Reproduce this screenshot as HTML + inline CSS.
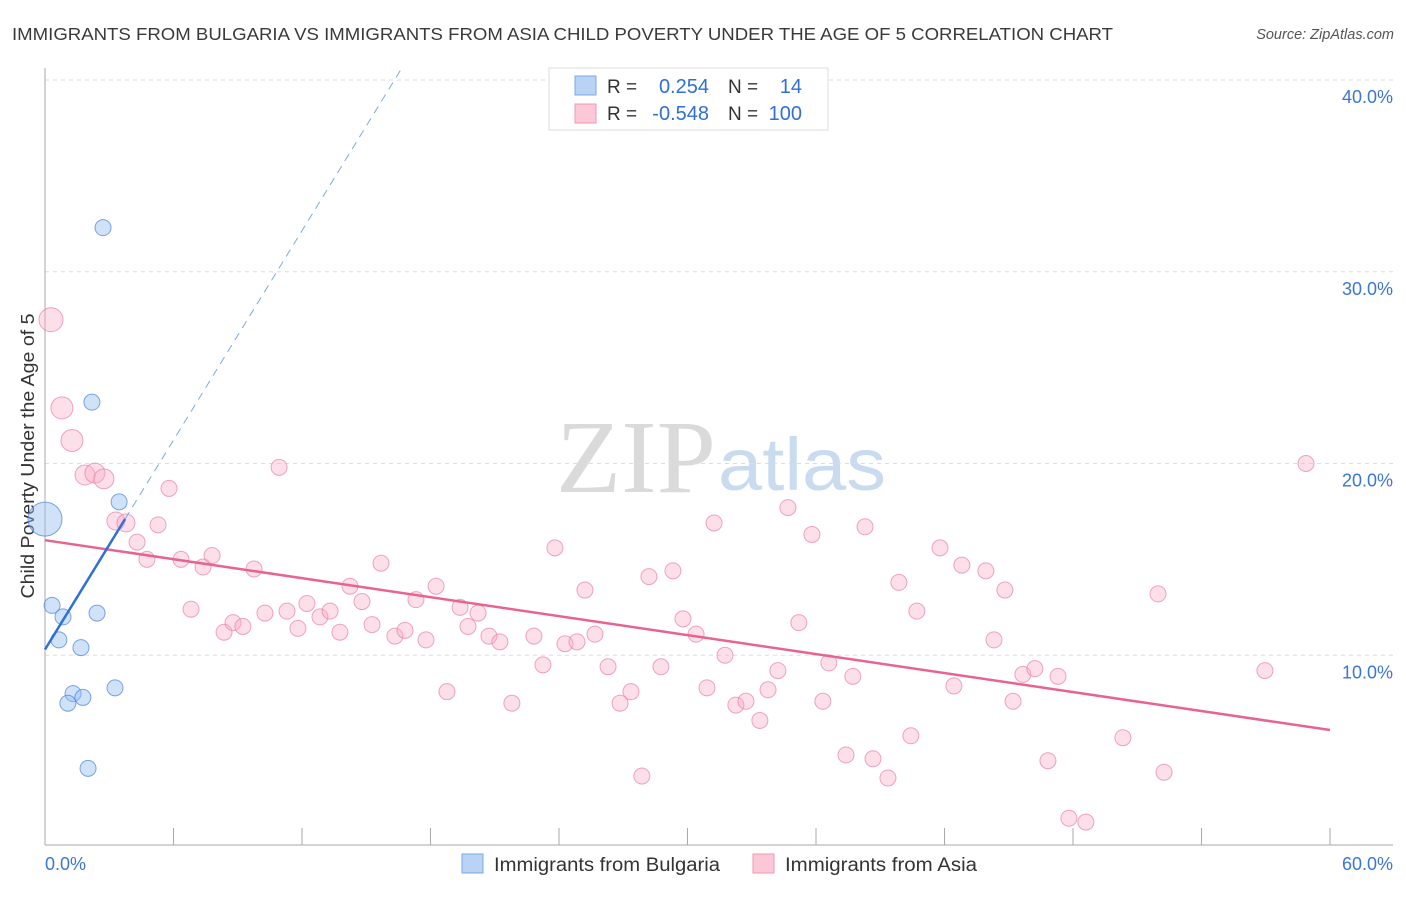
<!DOCTYPE html>
<html><head><meta charset="utf-8"><style>
body{margin:0;background:#fff;font-family:"Liberation Sans",sans-serif;}
svg text{font-family:"Liberation Sans",sans-serif;}
</style></head><body>
<svg id="c" width="1406" height="892" xmlns="http://www.w3.org/2000/svg">
<text x="12" y="40" font-size="17.5" fill="#3a3a3a" textLength="1101" lengthAdjust="spacingAndGlyphs">IMMIGRANTS FROM BULGARIA VS IMMIGRANTS FROM ASIA CHILD POVERTY UNDER THE AGE OF 5 CORRELATION CHART</text>
<text x="1394" y="39" font-size="14.5" fill="#555" font-style="italic" text-anchor="end">Source: ZipAtlas.com</text>
<text x="716" y="492" font-size="104" fill="#dadada" text-anchor="end" textLength="160" lengthAdjust="spacingAndGlyphs" style="font-family:'Liberation Serif',serif">ZIP</text>
<text x="718" y="490" font-size="74" fill="#c9dbef" textLength="168" lengthAdjust="spacingAndGlyphs">atlas</text>
<text transform="translate(34,456) rotate(-90)" font-size="18.5" fill="#333" text-anchor="middle" textLength="285" lengthAdjust="spacingAndGlyphs">Child Poverty Under the Age of 5</text>
<g id="grid"></g><g id="axes"></g><g id="pts"></g><g id="lines"></g>
<g>
<rect x="549" y="68" width="279" height="62" fill="#fff" stroke="#ddd"/>
<rect x="575" y="76" width="21" height="19" fill="#b8d3f4" stroke="#7aaae6"/>
<rect x="575" y="104" width="21" height="19" fill="#fcc8d8" stroke="#f097b3"/>
<text x="607" y="93" font-size="19" fill="#333">R =</text>
<text x="709" y="93" font-size="20" fill="#2f6fd6" text-anchor="end">0.254</text>
<text x="728" y="93" font-size="19" fill="#333">N =</text>
<text x="802" y="93" font-size="20" fill="#2f6fd6" text-anchor="end">14</text>
<text x="607" y="120" font-size="19" fill="#333">R =</text>
<text x="709" y="120" font-size="20" fill="#2f6fd6" text-anchor="end">-0.548</text>
<text x="728" y="120" font-size="19" fill="#333">N =</text>
<text x="802" y="120" font-size="20" fill="#2f6fd6" text-anchor="end">100</text>
</g>
<g>
<rect x="462" y="854" width="21" height="19" fill="#b8d3f4" stroke="#7aaae6"/>
<text x="494" y="871" font-size="19" fill="#333" textLength="226" lengthAdjust="spacingAndGlyphs">Immigrants from Bulgaria</text>
<rect x="753" y="854" width="21" height="19" fill="#fcc8d8" stroke="#f097b3"/>
<text x="785" y="871" font-size="19" fill="#333" textLength="192" lengthAdjust="spacingAndGlyphs">Immigrants from Asia</text>
</g>
</svg>
<script>
const yTicks=[10,20,30,40];
const yTickLabels=["10.0%","20.0%","30.0%","40.0%"];
const xTickLabels=["0.0%","60.0%"];
const blueX=[2.71,2.19,3.46,0,0.33,0.84,2.43,0.65,1.68,1.31,1.07,1.77,3.27,2.01];
const blueY=[32.3,23.2,18.0,17.1,12.6,12.0,12.2,10.8,10.4,8.0,7.5,7.8,8.3,4.1];
const blueR=[8,8,8,17,8,8,8,8,8,8,8,8,8,8];
const pinkX=[0.28,0.79,1.26,1.87,2.33,2.75,3.31,3.78,4.30,5.28,5.79,4.76,6.35,6.82,7.38,7.80,8.36,8.78,9.24,9.76,10.27,10.93,11.30,11.81,12.23,12.84,13.31,13.77,14.24,14.80,15.27,15.69,16.34,16.81,17.32,17.79,18.26,18.77,19.38,19.75,20.22,20.73,21.24,21.80,22.83,23.25,23.81,24.28,24.84,25.21,25.68,26.29,26.85,27.36,27.87,28.20,28.76,29.32,29.79,30.40,30.91,31.24,31.75,32.26,32.73,33.38,33.76,34.22,34.69,35.20,35.81,36.32,36.60,37.40,37.72,38.29,38.66,39.36,39.87,40.43,40.71,41.79,42.44,42.81,43.93,44.31,44.82,45.20,45.66,46.22,46.83,47.30,47.81,48.60,50.33,51.97,52.25,56.96,58.88];
const pinkY=[27.5,22.9,21.2,19.4,19.5,19.2,17.0,16.9,15.9,16.8,18.7,15.0,15.0,12.4,14.6,15.2,11.2,11.7,11.5,14.5,12.2,19.8,12.3,11.4,12.7,12.0,12.3,11.2,13.6,12.8,11.6,14.8,11.0,11.3,12.9,10.8,13.6,8.1,12.5,11.5,12.2,11.0,10.7,7.5,11.0,9.5,15.6,10.6,10.7,13.4,11.1,9.4,7.5,8.1,3.7,14.1,9.4,14.4,11.9,11.1,8.3,16.9,10.0,7.4,7.6,6.6,8.2,9.2,17.7,11.7,16.3,7.6,9.6,4.8,8.9,16.7,4.6,3.6,13.8,5.8,12.3,15.6,8.4,14.7,14.4,10.8,13.4,7.6,9.0,9.3,4.5,8.9,1.5,1.3,5.7,13.2,3.9,9.2,20.0];
const pinkR=[12,11,11,10,10,10,9,9];
const blueFit=[10.3,1.82];
const pinkFit=[16.0,-0.165];
const NS='http://www.w3.org/2000/svg';
const X=v=>45+v/60*1285, Y=v=>847-v/10*191.75;
function mk(t,a,p){const e=document.createElementNS(NS,t);for(const k in a)e.setAttribute(k,a[k]);document.getElementById(p).appendChild(e);return e;}
yTicks.forEach((t,i)=>{
 const g=mk('line',{x1:45,x2:1393,y1:Y(t),y2:Y(t),stroke:'#ddd','stroke-dasharray':'4,4'},'grid');
 
 
 const l=mk('text',{x:1393,y:Y(t)+23,'font-size':18,fill:'#3b76d6','text-anchor':'end'},'grid');l.textContent=yTickLabels[i];
 
 
});
const ax=mk('line',{x1:45,x2:1393,y1:845,y2:845,stroke:'#aaa'},'axes');


const ay=mk('line',{x1:45,x2:45,y1:68,y2:845,stroke:'#aaa'},'axes');


for(let i=1;i<=10;i++){const t=mk('line',{x1:X(i*6),x2:X(i*6),y1:828,y2:845,stroke:'#aaa'},'axes');
 
 }
[[0,'start',45],[60,'end',1393]].forEach((d,i)=>{const t=mk('text',{x:d[2],y:870,'font-size':18,fill:'#3b76d6','text-anchor':d[1]},'axes');t.textContent=xTickLabels[i];
 
 });
pinkX.forEach((x,i)=>{const c=mk('circle',{cx:X(x),cy:Y(pinkY[i]),r:pinkR[i]||8,fill:'rgba(248,170,196,0.38)',stroke:'rgba(232,120,160,0.65)','stroke-width':1},'pts');
 
 });
blueX.forEach((x,i)=>{const c=mk('circle',{cx:X(x),cy:Y(blueY[i]),r:blueR[i],fill:'rgba(150,190,240,0.45)',stroke:'rgba(70,130,220,0.7)','stroke-width':1},'pts');
 
 });
const pl=mk('line',{x1:X(0),y1:Y(pinkFit[0]),x2:X(60),y2:Y(pinkFit[0]+pinkFit[1]*60),stroke:'#e8648f','stroke-width':2.5},'lines');


const bEnd=3.74, bMax=(40-blueFit[0])/blueFit[1];
const bl=mk('line',{x1:X(0),y1:Y(blueFit[0]),x2:X(bEnd),y2:Y(blueFit[0]+blueFit[1]*bEnd),stroke:'#2f6fd6','stroke-width':2.5},'lines');


const bd=mk('line',{x1:X(bEnd),y1:Y(blueFit[0]+blueFit[1]*bEnd),x2:X(bMax+0.3),y2:Y(blueFit[0]+blueFit[1]*(bMax+0.3)),stroke:'#7aaae6','stroke-width':1,'stroke-dasharray':'8,6'},'lines');


</script>
</body></html>
